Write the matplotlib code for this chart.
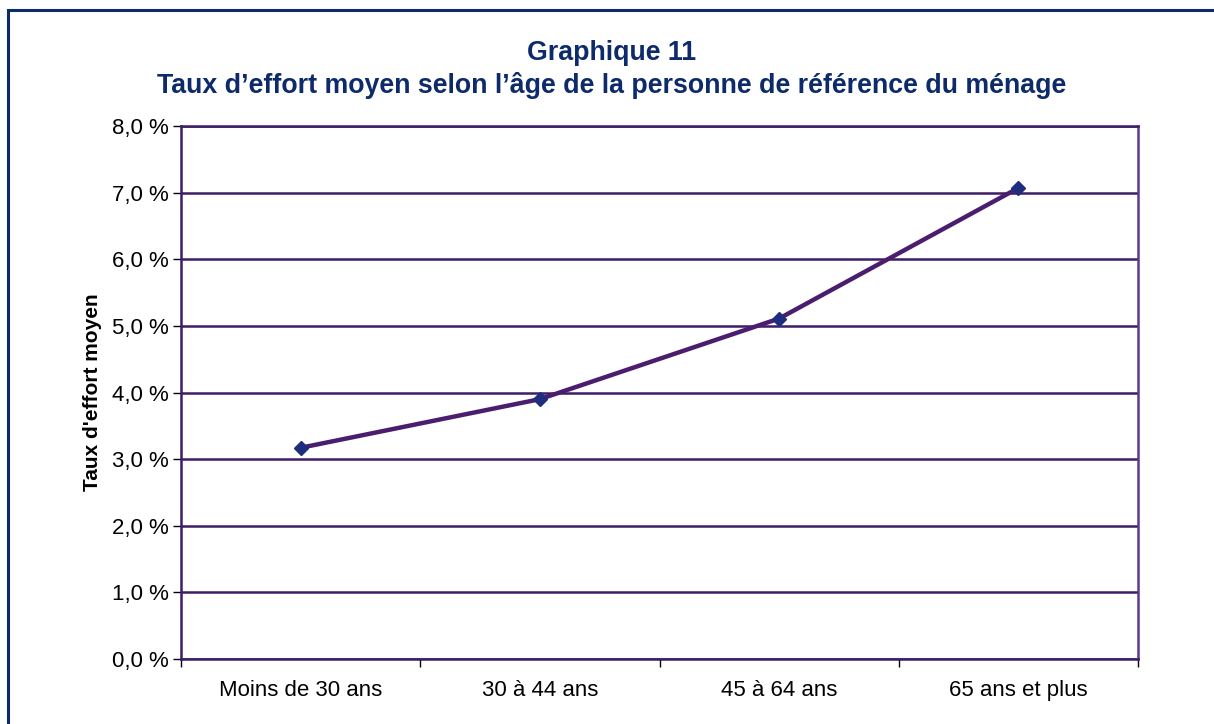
#!/usr/bin/env python3

import matplotlib

matplotlib.use("Agg")
import matplotlib.pyplot as plt
import matplotlib.ticker as ticker
from matplotlib.patches import Rectangle

# Data
CATEGORIES = ["Moins de 30 ans", "30 à 44 ans", "45 à 64 ans", "65 ans et plus"]
TAUX_EFFORT = [3.17, 3.90, 5.11, 7.07]
Y_TICKS = [0, 1, 2, 3, 4, 5, 6, 7, 8]

TITLE = "Graphique 11\nTaux d’effort moyen selon l’âge de la personne de référence du ménage"
YLABEL = "Taux d'effort moyen"

NAVY = "#0d2b6b"
PURPLE = "#3d1d66"
LINE = "#4a1d6e"
MARKER = "#1f2d80"

plt.rcParams["font.family"] = ["Liberation Sans", "DejaVu Sans"]


def main():
    figure = plt.figure(figsize=(12.14, 7.24), dpi=100)

    # outer frame of the page, running off the right and bottom edges
    figure.patches.append(
        Rectangle(
            (8 / 1214, -0.05),
            1.1,
            1.05 - 10 / 724,
            transform=figure.transFigure,
            fill=False,
            edgecolor=NAVY,
            linewidth=2.2,
        )
    )

    axis = figure.add_axes([181 / 1214, 65 / 724, 957 / 1214, 533 / 724])

    x = list(range(len(CATEGORIES)))
    axis.plot(
        x,
        TAUX_EFFORT,
        color=LINE,
        linewidth=3.2,
        marker="D",
        markersize=7,
        markerfacecolor=MARKER,
        markeredgecolor=MARKER,
        zorder=3,
    )

    axis.set_xlim(-0.5, len(CATEGORIES) - 0.5)
    axis.set_ylim(0, 8)
    axis.set_yticks(Y_TICKS)
    axis.yaxis.set_major_formatter(
        ticker.FuncFormatter(lambda y, pos: f"{y:.1f} %".replace(".", ","))
    )

    # category labels centred, tick marks at the boundaries
    axis.set_xticks([i - 0.5 for i in range(len(CATEGORIES) + 1)])
    axis.set_xticklabels([])
    axis.set_xticks(x, minor=True)
    axis.set_xticklabels(CATEGORIES, minor=True, fontsize=16)
    axis.tick_params(axis="x", which="minor", length=0, pad=15)
    axis.tick_params(axis="x", which="major", length=6, width=1, color="black")
    axis.tick_params(axis="y", length=6, width=1, color="black", labelsize=16, pad=3)

    axis.grid(axis="y", color=PURPLE, linewidth=1.8)
    axis.set_axisbelow(True)
    for side, spine in axis.spines.items():
        spine.set_color(PURPLE)
        spine.set_linewidth(1.8)
    axis.spines["right"].set_color("#5c3a8c")

    axis.set_ylabel(YLABEL, fontsize=15, fontweight="bold", labelpad=7)

    figure.text(
        0.5037,
        1 - 40 / 724,
        TITLE,
        ha="center",
        va="top",
        fontsize=19.3,
        fontweight="bold",
        color=NAVY,
        linespacing=1.28,
    )

    plt.savefig("out.png", dpi=100)


if __name__ == "__main__":
    main()
